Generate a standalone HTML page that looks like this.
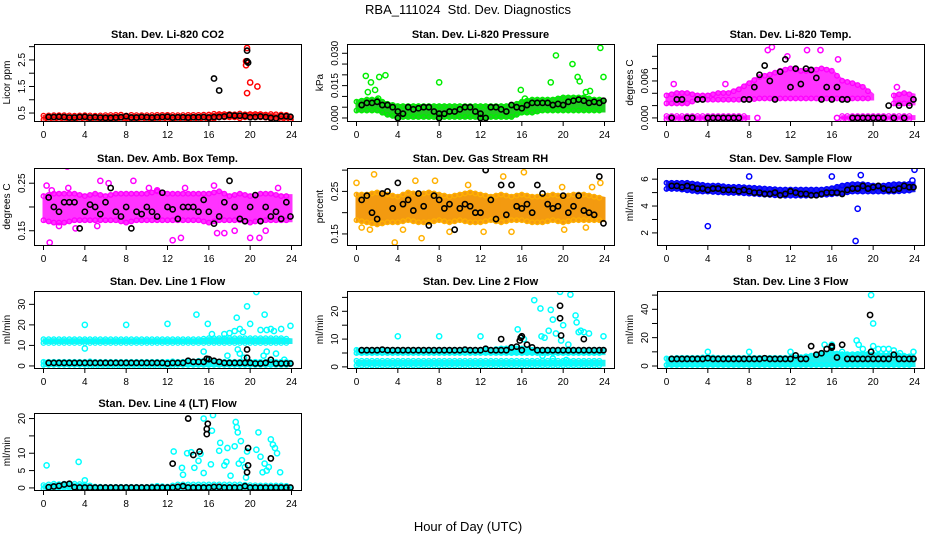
<!DOCTYPE html>
<html><head><meta charset="utf-8"><style>
html,body{margin:0;padding:0;background:#fff}
svg{display:block;font-family:"Liberation Sans",Arial,sans-serif}
</style></head><body>
<svg id="chart" width="936" height="540" viewBox="0 0 936 540" xmlns="http://www.w3.org/2000/svg">
<rect width="936" height="540" fill="#fff"/>
<text x="468" y="14" text-anchor="middle" font-size="13">RBA_111024&#160; Std. Dev. Diagnostics</text>
<text x="468" y="531" text-anchor="middle" font-size="13">Hour of Day (UTC)</text>
</svg>
<script>
const H=[0,1,2,3,4,5,6,7,8,9,10,11,12,13,14,15,16,17,18,19,20,21,22,23,24];
const BH=[0.5,1,1.5,2,2.5,3,3.5,4,4.5,5,5.5,6,6.5,7,7.5,8,8.5,9,9.5,10,10.5,11,11.5,12,12.5,13,13.5,14,14.5,15,15.5,16,16.5,17,17.5,18,18.5,19,19.5,20,20.5,21,21.5,22,22.5,23,23.5,23.9];
const xTicks=[0,4,8,12,16,20,24];

// Panel 1: CO2
const p1Title="Stan. Dev. Li-820 CO2", p1Unit="Licor ppm", p1Ylim=[0.2,3.1];
const p1Ticks=[0.5,1,1.5,2,2.5,3], p1TickLbl=["0.5","","1.5","","2.5",""];
const p1Lo=[0.25,0.25,0.25,0.25,0.25,0.25,0.25,0.25,0.25,0.25,0.25,0.25,0.25,0.25,0.25,0.25,0.27,0.3,0.3,0.3,0.3,0.3,0.28,0.27,0.25];
const p1Hi=[0.4,0.42,0.42,0.4,0.42,0.4,0.42,0.43,0.44,0.42,0.42,0.43,0.43,0.42,0.43,0.43,0.44,0.5,0.5,0.48,0.5,0.5,0.46,0.44,0.42];
const p1OutX=[19.7,19.6,19.6,20,20.7,19.7,23.9], p1OutY=[2.95,2.3,2.45,1.65,1.5,1.25,0.25];
const p1Blk=[0.35,0.35,0.36,0.35,0.33,0.33,0.35,0.36,0.33,0.34,0.33,0.32,0.32,0.33,0.34,0.38,0.33,0.33,0.35,0.34,0.33,0.34,0.35,0.36,0.33,0.34,0.34,0.33,0.34,0.34,0.35,0.33,0.35,0.35,0.37,0.42,0.4,0.4,0.39,0.34,0.35,0.37,0.35,0.32,0.3,0.38,0.38,0.36];
const p1ExX=[16.5,17,19.7,19.7,19.8], p1ExY=[1.8,1.35,2.85,2.45,2.4];

// Panel 2: Pressure
const p2Title="Stan. Dev. Li-820 Pressure", p2Unit="kPa", p2Ylim=[-0.0014,0.0343];
const p2Ticks=[0,0.005,0.01,0.015,0.02,0.025,0.03], p2TickLbl=["0.000","","","0.015","","","0.030"];
const p2Lo=[0.003,0.003,0.003,0.001,0,0,0,0,0,0,0,0,0,0,0,0,0.002,0.002,0.003,0.003,0.003,0.003,0.003,0.003,0.003];
const p2Hi=[0.008,0.009,0.009,0.007,0.006,0.006,0.006,0.006,0.006,0.006,0.006,0.006,0.006,0.006,0.006,0.006,0.008,0.009,0.009,0.009,0.01,0.01,0.01,0.009,0.009];
const p2OutX=[0.9,1.1,1.4,1.8,2.2,2.8,2.1,8,15.9,16.3,18.8,19.3,20.9,21.4,21.6,22.2,22.6,23.6,23.9];
const p2OutY=[0.0195,0.012,0.0165,0.013,0.019,0.0198,0.009,0.0165,0.013,0.009,0.0165,0.029,0.025,0.019,0.017,0.012,0.0125,0.0325,0.019];
const p2Blk=[0.006,0.007,0.007,0.0075,0.006,0.006,0.005,0.003,0.002,0.005,0.004,0.0045,0.005,0.005,0.003,0.002,0.002,0.003,0.003,0.004,0.005,0.005,0.003,0.002,0,0.005,0.005,0.004,0.003,0.006,0.005,0.0045,0.006,0.007,0.007,0.007,0.007,0.006,0.0065,0.006,0.0075,0.008,0.0085,0.008,0.007,0.0075,0.007,0.008];
const p2ExX=[4,8,12], p2ExY=[0,0,0];

// Panel 3: Temp
const p3Title="Stan. Dev. Li-820 Temp.", p3Unit="degrees C", p3Ylim=[-0.0005,0.012];
const p3Ticks=[0,0.002,0.004,0.006,0.008,0.01], p3TickLbl=["0.000","","","0.006","",""];
const p3LoA=[-0.0002,-0.0002,-0.0002,-0.0002,-0.0002,-0.0002,-0.0002,-0.0002,-0.0002,null,null,null,null,null,null,null,null,-0.0002,-0.0002,-0.0002,-0.0002,-0.0002,-0.0002,-0.0002,-0.0002];
const p3HiA=[0.0003,0.0003,0.0003,0.0003,0.0003,0.0003,0.0003,0.0003,0.0003,null,null,null,null,null,null,null,null,0.0003,0.0003,0.0003,0.0003,0.0003,0.0003,0.0003,0.0003];
const p3LoB=[0.0022,0.0022,0.0022,0.0028,0.0028,0.0028,0.0028,0.0028,0.0028,0.003,0.003,0.003,0.003,0.003,0.003,0.003,0.003,0.003,0.003,0.003,0.003,null,0.0022,0.0022,0.0022];
const p3HiB=[0.0038,0.0042,0.0042,0.0038,0.0038,0.0042,0.0042,0.0048,0.0058,0.0068,0.0072,0.0078,0.0082,0.0078,0.0078,0.0082,0.0078,0.0062,0.0058,0.0052,0.0038,null,0.0038,0.0042,0.0038];
const p3OutX=[0.7,5.7,10.2,11.7,9.8,14.9,13.6,16.6,22.3,8.8,16.5], p3OutY=[0.0055,0.0055,0.0115,0.01,0.011,0.011,0.011,0.0095,0.005,0,0];
const p3Blk=[0,0.003,0.003,0,0,0.003,0.003,0,0,0,0,0,0,0,0.003,0.003,0.005,0.007,0.0085,0.006,0.003,0.0075,0.0095,0.005,0.008,0.0055,0.008,0.0078,0.0065,0.003,0.005,0.003,0.005,0.003,0.003,0,0,0,0,0,0,0,0.002,0,0.002,0,0.002,0.003];

// Panel 4: Amb box temp
const p4Title="Stan. Dev. Amb. Box Temp.", p4Unit="degrees C", p4Ylim=[0.12,0.282];
const p4Ticks=[0.15,0.2,0.25], p4TickLbl=["0.15","","0.25"];
const p4Lo=[0.17,0.165,0.165,0.17,0.17,0.17,0.17,0.17,0.165,0.17,0.17,0.17,0.17,0.17,0.17,0.17,0.165,0.17,0.17,0.17,0.165,0.17,0.17,0.17,0.17];
const p4Hi=[0.225,0.23,0.23,0.23,0.225,0.23,0.225,0.23,0.23,0.23,0.23,0.235,0.23,0.23,0.23,0.23,0.23,0.235,0.225,0.23,0.225,0.23,0.23,0.225,0.225];
const p4OutX=[0.3,0.8,2.3,2.4,5.5,6.3,8.7,10.2,11,0.6,1.5,3.1,5.2,12.5,13.3,16.8,17.5,18.5,20,20.9,21.5,22.7,13.7,16.5];
const p4OutY=[0.245,0.235,0.285,0.24,0.255,0.25,0.255,0.24,0.235,0.125,0.16,0.155,0.16,0.13,0.135,0.145,0.145,0.15,0.135,0.135,0.15,0.24,0.24,0.245];
const p4Blk=[0.22,0.20,0.19,0.21,0.21,0.21,0.155,0.19,0.205,0.20,0.185,0.21,0.24,0.19,0.18,0.20,0.155,0.19,0.185,0.20,0.19,0.18,0.23,0.20,0.195,0.175,0.20,0.20,0.20,0.19,0.215,0.19,0.165,0.18,0.21,0.255,0.20,0.175,0.17,0.20,0.225,0.17,0.20,0.18,0.19,0.175,0.21,0.18];

// Panel 5: Gas stream RH
const p5Title="Stan. Dev. Gas Stream RH", p5Unit="percent", p5Ylim=[0.124,0.305];
const p5Ticks=[0.15,0.2,0.25,0.3], p5TickLbl=["0.15","","0.25",""];
const p5Lo=[0.18,0.175,0.17,0.175,0.175,0.18,0.175,0.175,0.18,0.175,0.18,0.175,0.175,0.18,0.175,0.18,0.18,0.175,0.175,0.18,0.175,0.18,0.18,0.18,0.18];
const p5Hi=[0.245,0.245,0.25,0.245,0.24,0.25,0.245,0.25,0.245,0.24,0.245,0.25,0.245,0.24,0.245,0.24,0.245,0.24,0.24,0.245,0.24,0.245,0.245,0.24,0.235];
const p5OutX=[0,1.7,3.7,4.5,5.7,6.3,7.6,9,10.8,14.2,16.2,15,12.3,19.9,20.1,22.2,22.8,23.6,0.5,1.3];
const p5OutY=[0.27,0.29,0.13,0.16,0.275,0.14,0.275,0.155,0.265,0.285,0.295,0.155,0.155,0.26,0.16,0.165,0.26,0.27,0.165,0.16];
const p5Blk=[0.23,0.24,0.20,0.185,0.245,0.25,0.21,0.27,0.22,0.23,0.205,0.245,0.215,0.17,0.24,0.23,0.21,0.22,0.16,0.21,0.22,0.215,0.20,0.20,0.30,0.23,0.185,0.265,0.195,0.265,0.215,0.21,0.22,0.20,0.265,0.245,0.22,0.21,0.215,0.24,0.20,0.215,0.24,0.205,0.20,0.195,0.285,0.175];

// Panel 6: Sample flow
const p6Title="Stan. Dev. Sample Flow", p6Unit="ml/min", p6Ylim=[1.1,6.83];
const p6Ticks=[2,3,4,5,6], p6TickLbl=["2","","4","","6"];
const p6Lo=[5.2,5.2,5.1,5.0,5.0,4.95,4.9,4.9,4.85,4.8,4.75,4.7,4.7,4.7,4.7,4.75,4.8,4.9,5.0,5.0,5.0,5.0,5.0,5.05,5.1];
const p6Hi=[5.8,5.8,5.8,5.7,5.6,5.6,5.5,5.5,5.45,5.4,5.35,5.3,5.3,5.3,5.3,5.3,5.4,5.6,5.7,5.7,5.6,5.6,5.7,5.7,5.75];
const p6OutX=[4,8,16,18.5,18.8,18.3,23.8,24], p6OutY=[2.5,6.2,6.2,3.8,6.3,1.4,5.9,6.7];
const p6Blk=[5.5,5.5,5.4,5.5,5.4,5.3,5.3,5.2,5.3,5.3,5.2,5.2,5.2,5.1,5.2,5.1,5.0,5.0,4.9,4.9,5.0,4.8,4.9,5.1,5.0,4.9,4.9,4.8,4.8,4.9,5.0,5.0,5.0,4.9,5.2,5.3,5.3,5.5,5.3,5.4,5.5,5.3,5.2,5.2,5.3,5.5,5.4,5.4];

// Panel 7: Line 1 flow
const p7Title="Stan. Dev. Line 1 Flow", p7Unit="ml/min", p7Ylim=[-1,36.5];
const p7Ticks=[0,10,20,30], p7TickLbl=["0","10","20","30"];
const p7LoA=[11.2,11.2,11.2,11.2,11.2,11.2,11.2,11.2,11.2,11.2,11.2,11.2,11.2,11.2,11.2,11.2,11.2,11.2,11.2,11.2,11.2,11.2,11.2,11.2,11.2];
const p7HiA=[13,13,13,13,13,13,13,13,13,13,13,13,13,13,13,13,13.5,13.5,13.5,13.5,13.5,13.5,13.5,13.5,13];
const p7LoB=[0,0,0,0,0,0,0,0,0,0,0,0,0,0,0,0,0,0,0,0,0,0,0,0,0];
const p7HiB=[2.5,2.5,2.5,2.5,2.5,2,2,2,2,2,2,2,2,2.5,2.5,3,3,2.5,2.5,2.5,2.5,2.5,2.5,2.5,2.5];
const p7OutX=[4,4,8,12,14.8,15.5,15.9,16.3,17.5,18,18.5,18.7,19,19.3,19.7,20,20.6,21,21.4,21.6,22,22.3,23,23.9,17.8,18.8,19,19.4,21.3,21.6,22.5,23.3];
const p7OutY=[20,8.5,20,20.5,25,7,20.5,15.5,15.5,16,17,23.5,18,16.5,29,20.5,36,17.5,25,17.5,18,17,18,19.5,5,8,6,4,5,7,6,3];
const p7Blk=[1.5,1.5,1.5,1.5,1.5,1.5,1.5,1.5,1.5,1.5,1.5,1.5,1.5,1.5,1.5,1.5,1.5,1.5,1.5,1.5,1.5,1.5,1.5,1.2,1.5,1.5,1.5,2.5,2,2,2,3.3,2.5,2,1.5,1.5,1.5,1.5,1.5,1.5,1.2,1.2,1.5,3,1.2,1.2,1.2,1.2];
const p7ExX=[19.7,19.7,15.8], p7ExY=[8,4,3.5];

// Panel 8: Line 2 flow
const p8Title="Stan. Dev. Line 2 Flow", p8Unit="ml/min", p8Ylim=[-0.4,27.3];
const p8Ticks=[0,5,10,15,20,25], p8TickLbl=["0","","10","","20",""];
const p8LoA=[4.6,4.6,4.6,4.6,4.6,4.6,4.6,4.6,4.6,4.6,4.6,4.6,4.6,4.6,4.6,4.6,4.6,4.6,4.6,4.6,4.6,4.6,4.6,4.6,4.6];
const p8HiA=[6.5,6.5,6.5,6.5,6.5,6.5,6.5,6.5,6.5,6.5,6.5,6.5,6.5,6.5,7,7,7,6.5,6.5,6.5,6.5,6.5,6.5,6.5,6.5];
const p8LoB=[0.5,0.5,0.5,0.5,0.5,0.5,0.5,0.5,0.5,0.5,0.5,0.5,0.5,0.5,0.5,0.5,0.5,0.5,0.5,0.5,0.5,0.5,0.5,0.5,0.5];
const p8HiB=[2.2,2.2,2.2,2.2,2.2,2.2,2.2,2.2,2.2,2.2,2.2,2.2,2.2,2.2,2.2,2.2,2.2,2.2,2.2,2.2,2.2,2.2,2.2,2.2,2.2];
const p8OutX=[4,8,12,15.6,16.2,17.2,17.8,17.9,18.2,18.6,18.8,19,19.3,19.7,19.8,20,20.5,20.7,21.2,21.3,21.5,21.7,22,22.5,23.9,18,19,20.3];
const p8OutY=[11,11,11,13.5,10,24,21,11,10.5,13,20.5,17,12,27,9.5,15,8,26,18.5,16,12.5,13,12.5,12,11,4,3,2.5];
const p8Blk=[6,6,6,6,6.2,6,6,6,6,6,6,6,6,6,6,6,6,6,6,6,6.2,6,6,6,6.5,6,6,6,6,7,7.3,6,8,7,6,6,6,6,6,6,6,6,6,6,6,6,6,6];
const p8ExX=[14,15.8,15.9,16,19.7,19.7,19.8,22], p8ExY=[10,9.5,10.5,11,22,17.5,11.3,10];

// Panel 9: Line 3 flow
const p9Title="Stan. Dev. Line 3 Flow", p9Unit="ml/min", p9Ylim=[-1.4,52.9];
const p9Ticks=[0,10,20,30,40,50], p9TickLbl=["0","","20","","40",""];
const p9Lo=[0,0,0,0,0,0,0,0,0,0,0,0,0,0,0,0,0,0,0,0,0,0,0,0,0];
const p9Hi=[6,6.5,6.5,6.5,7,6.5,6.5,6.5,6.5,6.5,6.5,6.5,6.5,7,8,9,10,9,9,9.5,9,8.5,8.5,8,7];
const p9OutX=[4,8,12,15.3,16,17,18.4,18.6,19,19.8,20,20,20.5,21,21.5,22,22.6,23.9];
const p9OutY=[10,10,10,15,15,10,18,15,12,50,30,14,12,12,12,11,9,10];
const p9Blk=[5,5,5,5,5,5,5,5.5,5,5,5,5,5,5,5,5,5,5,5.5,5,5,5,5,5,7.5,5,5,14,8,9,12,13,6,15,5,5,5,5,5,5,5,5,5,8,5,5,5,5];
const p9ExX=[19.7,19.8,16], p9ExY=[36,10,14];

// Panel 10: Line 4 flow
const p10Title="Stan. Dev. Line 4 (LT) Flow", p10Unit="ml/min", p10Ylim=[-0.6,21.6];
const p10Ticks=[0,5,10,15,20], p10TickLbl=["0","5","10","","20"];
const p10Lo=[-0.2,-0.2,-0.2,-0.2,-0.2,-0.2,-0.2,-0.2,-0.2,-0.2,-0.2,-0.2,-0.2,-0.2,-0.2,-0.2,-0.2,-0.2,-0.2,-0.2,-0.2,-0.2,-0.2,-0.2,-0.2];
const p10Hi=[0.8,1.2,1.5,1.2,1,0.4,0.3,0.3,0.3,0.3,0.3,0.6,0.4,1,1,1,1,1,1,1,0.8,0.7,0.7,0.7,0.5];
const p10OutX=[0.3,3.4,4,12.6,13.4,13.5,13.9,14.3,14.6,15,15.2,15.5,15.5,16.2,16.3,16.4,17.1,17,17.5,17.7,17.8,18.1,18.5,18.6,18.7,18.8,18.9,19.1,19.2,19.5,19.7,19.6,20.6,20.8,21,21.2,21.4,21.6,21.8,22,22.2,22.4,22.6,22.9];
const p10OutY=[6.5,7.5,2.2,10.5,5.8,3.8,10,10.3,5.8,7.8,9.8,4.3,20,6.8,16.5,21,13,10.7,6.5,7.5,11.5,3.5,12,19,17.5,16,7,13.5,8,6,10.5,3,11,16,9,4.5,7,5,6,14,12.5,11.5,10,4.5];
const p10Blk=[0.2,0.4,0.6,1,1.2,0.2,0.1,0.1,0.1,0.1,0.1,0.1,0.1,0.1,0.1,0.1,0.1,0.1,0.1,0.1,0.1,0.1,0.1,0.1,0.1,0.3,0.5,0.1,0.1,0.1,0.1,0.1,0.3,0.3,0.1,0.1,0.1,0.1,0.5,0.1,0.1,0.1,0.1,0.1,0.1,0.1,0.1,0.1];
const p10ExX=[12.5,14,14.5,15.1,15.8,15.8,15.9,19.8,19.8,19.7,22], p10ExY=[7,20,9.5,10.5,15.5,17,18.5,11.5,6.5,4.5,8.5];

const svg=document.getElementById('chart');
const NS='http://www.w3.org/2000/svg';
function mk(tag,attrs,parent){const e=document.createElementNS(NS,tag);for(const k in attrs)e.setAttribute(k,attrs[k]);(parent||svg).appendChild(e);return e;}

const PW=267, PH=77;
function panel(name,left,top,title,unit,ylim,ticks,tickLbl,bands,color,fill,outX,outY,blk,exX,exY){
  const g=mk('g',{});
  
  
  const x=h=>left+9.5+h*(248/24);
  const y=v=>top+PH-(v-ylim[0])/(ylim[1]-ylim[0])*PH;
  const clipId='clip-'+name;
  const cp=mk('clipPath',{id:clipId},g);mk('rect',{x:left,y:top,width:PW,height:PH},cp);
  const plot=mk('g',{'clip-path':'url(#'+clipId+')'},g);
  bands.forEach(([lo,hi])=>{
    for(let i=0;i<H.length-1;i++){
      if(lo[i]==null||lo[i+1]==null)continue;
      const pts=[[x(H[i]),y(hi[i])],[x(H[i+1]),y(hi[i+1])],[x(H[i+1]),y(lo[i+1])],[x(H[i]),y(lo[i])]];
      const p=mk('polygon',{points:pts.map(p=>p.join(',')).join(' '),fill:fill,stroke:fill,'stroke-width':2},plot);
      
      
      for(let s=0;s<2;s++){const hh=H[i]+s*0.5, f=s*0.5;
        const vh=hi[i]+(hi[i+1]-hi[i])*f, vl=lo[i]+(lo[i+1]-lo[i])*f;
        const yh=y(vh), yl=y(vl), thick=(yl-yh)>5;
        [thick?yh+1:yh, thick?yl-1:yl].forEach(cy=>{const c=mk('circle',{cx:x(hh),cy:cy,r:2.3,fill:'none',stroke:color,'stroke-width':1.3},plot);
          
          });
      }
    }
  });
  outX.forEach((h,i)=>{const c=mk('circle',{cx:x(h),cy:y(outY[i]),r:2.6,fill:'none',stroke:color,'stroke-width':1.5},plot);
    
    });
  BH.forEach((h,i)=>{const c=mk('circle',{cx:x(h),cy:y(blk[i]),r:2.6,fill:'none',stroke:'#000','stroke-width':1.6},plot);
    
    });
  exX.forEach((h,i)=>{const c=mk('circle',{cx:x(h),cy:y(exY[i]),r:2.6,fill:'none',stroke:'#000','stroke-width':1.6},plot);
    
    });
  const box=mk('rect',{x:left+0.5,y:top+0.5,width:PW,height:PH,fill:'none',stroke:'#000','stroke-width':1},g);
  
  
  const t=mk('text',{x:left+PW/2,y:top-6,'text-anchor':'middle','font-size':11,'font-weight':'bold'},g);t.textContent=title;
  
  
  xTicks.forEach(v=>{mk('line',{x1:x(v),x2:x(v),y1:top+PH,y2:top+PH+5,stroke:'#000'},g);
    const l=mk('text',{x:x(v),y:top+PH+17,'text-anchor':'middle','font-size':10},g);l.textContent=v;
    
    });
  ticks.forEach((v,i)=>{const yy=y(v);mk('line',{x1:left-5,x2:left,y1:yy,y2:yy,stroke:'#000'},g);
    if(tickLbl[i]){const l=mk('text',{x:left-9,y:yy,'text-anchor':'middle','font-size':10,transform:`rotate(-90 ${left-9} ${yy})`},g);l.textContent=tickLbl[i];
      
      }});
  const yt=top+PH/2;
  const u=mk('text',{x:left-24,y:yt,'text-anchor':'middle','font-size':10,transform:`rotate(-90 ${left-24} ${yt})`},g);u.textContent=unit;
  
  
}
const L=[34,347,657], T=[44,168,291,413];
panel('co2-panel',L[0],T[0],p1Title,p1Unit,p1Ylim,p1Ticks,p1TickLbl,[[p1Lo,p1Hi]],'#ff0000','#ff2a2a',p1OutX,p1OutY,p1Blk,p1ExX,p1ExY);
panel('pressure-panel',L[1],T[0],p2Title,p2Unit,p2Ylim,p2Ticks,p2TickLbl,[[p2Lo,p2Hi]],'#00ee00','#22cc22',p2OutX,p2OutY,p2Blk,p2ExX,p2ExY);
panel('temp-panel',L[2],T[0],p3Title,p3Unit,p3Ylim,p3Ticks,p3TickLbl,[[p3LoA,p3HiA],[p3LoB,p3HiB]],'#ff00ff','#ff33ff',p3OutX,p3OutY,p3Blk,[],[]);
panel('amb-box-temp-panel',L[0],T[1],p4Title,p4Unit,p4Ylim,p4Ticks,p4TickLbl,[[p4Lo,p4Hi]],'#ff00ff','#ff33ff',p4OutX,p4OutY,p4Blk,[],[]);
panel('gas-rh-panel',L[1],T[1],p5Title,p5Unit,p5Ylim,p5Ticks,p5TickLbl,[[p5Lo,p5Hi]],'#ffb000','#f39a10',p5OutX,p5OutY,p5Blk,[],[]);
panel('sample-flow-panel',L[2],T[1],p6Title,p6Unit,p6Ylim,p6Ticks,p6TickLbl,[[p6Lo,p6Hi]],'#0000ff','#1a1aee',p6OutX,p6OutY,p6Blk,[],[]);
panel('line1-flow-panel',L[0],T[2],p7Title,p7Unit,p7Ylim,p7Ticks,p7TickLbl,[[p7LoA,p7HiA],[p7LoB,p7HiB]],'#00ffff','#22f0f0',p7OutX,p7OutY,p7Blk,p7ExX,p7ExY);
panel('line2-flow-panel',L[1],T[2],p8Title,p8Unit,p8Ylim,p8Ticks,p8TickLbl,[[p8LoA,p8HiA],[p8LoB,p8HiB]],'#00ffff','#22f0f0',p8OutX,p8OutY,p8Blk,p8ExX,p8ExY);
panel('line3-flow-panel',L[2],T[2],p9Title,p9Unit,p9Ylim,p9Ticks,p9TickLbl,[[p9Lo,p9Hi]],'#00ffff','#22f0f0',p9OutX,p9OutY,p9Blk,p9ExX,p9ExY);
panel('line4-flow-panel',L[0],T[3],p10Title,p10Unit,p10Ylim,p10Ticks,p10TickLbl,[[p10Lo,p10Hi]],'#00ffff','#22f0f0',p10OutX,p10OutY,p10Blk,p10ExX,p10ExY);
</script>
</body></html>
